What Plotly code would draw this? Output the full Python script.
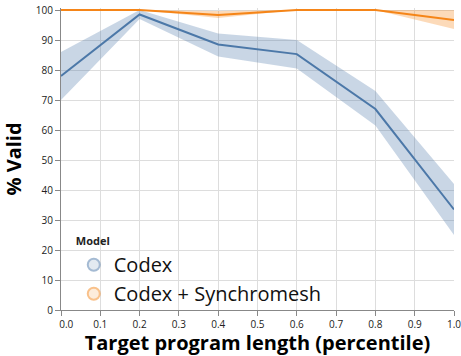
import plotly.graph_objects as go

x_vals = [0.0, 0.2, 0.4, 0.6, 0.8, 1.0]

codex_mean = [78.0, 98.5, 88.5, 85.3, 67.0, 33.5]
codex_lo = [70.0, 97.0, 84.5, 80.5, 61.5, 25.0]
codex_hi = [86.0, 100.0, 92.2, 90.0, 73.0, 42.0]

sync_mean = [100.0, 100.0, 98.3, 100.0, 100.0, 96.7]
sync_lo = [100.0, 100.0, 97.3, 100.0, 100.0, 93.7]
sync_hi = [100.0, 100.0, 99.7, 100.0, 100.0, 100.0]

models = ["Codex", "Codex + Synchromesh"]
colors = ["#4c78a8", "#f58518"]
band_colors = ["rgba(76,120,168,0.3)", "rgba(245,133,24,0.3)"]

x_ticks = [i / 10 for i in range(11)]
# first label nudged right, like the flushed label in the original
nb = "\u00a0"
x_ticktext = [f"{t:.1f}" for t in x_ticks]
x_ticktext[0] = nb * 4 + x_ticktext[0]

fig = go.Figure()

series = [(codex_mean, codex_lo, codex_hi), (sync_mean, sync_lo, sync_hi)]
for name, col, band, (m, lo, hi) in zip(models, colors, band_colors, series):
    # confidence band
    fig.add_trace(go.Scatter(x=x_vals, y=hi, mode="lines", line=dict(width=0),
                             showlegend=False, hoverinfo="skip"))
    fig.add_trace(go.Scatter(x=x_vals, y=lo, mode="lines", line=dict(width=0),
                             fill="tonexty", fillcolor=band,
                             showlegend=False, hoverinfo="skip"))
    fig.add_trace(go.Scatter(x=x_vals, y=m, mode="lines",
                             line=dict(color=col, width=2), showlegend=False))

# legend entries
for name, col, band in zip(models, colors, band_colors):
    fig.add_trace(go.Scatter(x=[None], y=[None], mode="markers", name=name,
                             marker=dict(size=13, color=band, symbol="circle",
                                         line=dict(color=col, width=1)),
                             opacity=0.5))

fig.update_layout(
    width=461, height=356,
    margin=dict(l=61, r=0, t=8, b=46),
    plot_bgcolor="white", paper_bgcolor="white",
    font=dict(family="Open Sans, sans-serif", color="#222"),
    legend=dict(
        title=dict(text="<b>Model</b>", font=dict(size=11, color="#222")),
        font=dict(size=20, color="#111"),
        x=0.0325, y=0.262, xanchor="left", yanchor="top",
        bgcolor="rgba(0,0,0,0)", itemsizing="constant",
        tracegroupgap=0, itemwidth=30, traceorder="normal",
    ),
    showlegend=True,
)

fig.update_xaxes(
    range=[0, 1], tickvals=x_ticks, ticktext=x_ticktext,
    showgrid=True, gridcolor="#ddd", gridwidth=1,
    showline=True, linecolor="#888", linewidth=1,
    ticks="outside", ticklen=5, tickcolor="#888",
    tickfont=dict(size=10, color="#222"), ticklabeloverflow="allow",
    title=dict(text="<b>Target program length (percentile)</b>",
               font=dict(size=20, color="#000"), standoff=7),
    zeroline=False,
)
fig.update_yaxes(
    range=[0, 100.67], tickvals=list(range(0, 101, 10)),
    showgrid=True, gridcolor="#ddd", gridwidth=1,
    showline=True, linecolor="#888", linewidth=1,
    ticks="outside", ticklen=5, tickcolor="#888",
    tickfont=dict(size=10, color="#222"), ticklabeloverflow="allow",
    title=dict(text="<b>% Valid</b>", font=dict(size=20, color="#000"), standoff=10),
    zeroline=False,
)

fig.write_html("out.html", config={"displayModeBar": False},
               post_script="document.body.style.margin='0';document.body.style.overflow='hidden';")
